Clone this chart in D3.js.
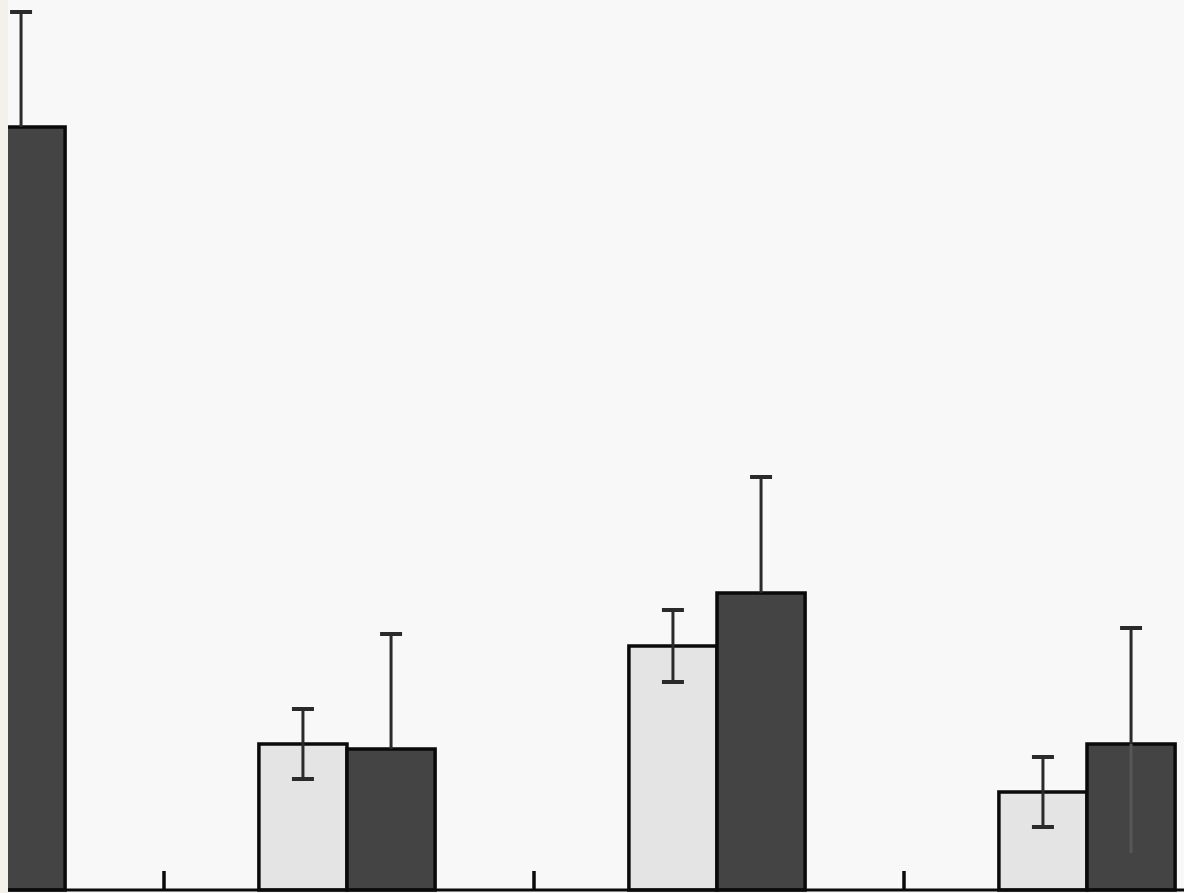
<!DOCTYPE html>
<html>
<head>
<meta charset="utf-8">
<script src="https://cdn.jsdelivr.net/npm/d3@7"></script>
<style>
  html, body { margin: 0; padding: 0; background: #f4f1ec; }
  svg { display: block; }
</style>
</head>
<body>
<svg id="chart" width="1184" height="893"></svg>
<script>
// Groups and series
const groups = ["G1", "G2", "G3", "G4"];
const series = ["light", "dark"];

// Mean values per group (null = not shown)
const lightValues = [null, 1.46, 2.44, 0.98];
const darkValues  = [7.63, 1.41, 2.97, 1.46];

// Error sizes (upper whiskers with caps)
const lightErrors = [null, 0.35, 0.36, 0.35];
const darkErrors  = [1.15, 1.15, 1.16, 1.16];
// Lower whisker drawn inside the dark bar, where visible
const darkLowerErrors = [null, null, null, 1.09];

const W = 1184, H = 893;
const svg = d3.select("#chart");

// Plot panel starts a few pixels in from the left edge
const panelLeft = 8;
const baseY = 890;

svg.append("defs").append("clipPath").attr("id", "panel")
  .append("rect").attr("x", panelLeft).attr("y", 0)
  .attr("width", W - panelLeft).attr("height", H);

svg.append("rect").attr("x", panelLeft).attr("y", 0)
  .attr("width", W - panelLeft).attr("height", H)
  .attr("fill", "#f8f8f8");

const g = svg.append("g").attr("clip-path", "url(#panel)");

const x = d3.scaleBand().domain(groups).range([-208, 1272]).paddingInner(0).paddingOuter(0);
const xs = d3.scaleBand().domain(series).range([0, x.bandwidth()]).paddingInner(0).paddingOuter(1.1);
const y = d3.scaleLinear().domain([0, 8.9]).range([baseY, 0]);

const fills = { light: "#e4e4e4", dark: "#444444" };

const rows = [];
groups.forEach((grp, i) => {
  if (lightValues[i] != null) rows.push({ grp, s: "light", v: lightValues[i], e: lightErrors[i], lo: lightErrors[i] });
  if (darkValues[i] != null) rows.push({ grp, s: "dark", v: darkValues[i], e: darkErrors[i], lo: darkLowerErrors[i] });
});

// Bars
g.selectAll("rect.bar").data(rows).join("rect")
  .attr("class", "bar")
  .attr("x", d => x(d.grp) + xs(d.s))
  .attr("y", d => y(d.v))
  .attr("width", xs.bandwidth())
  .attr("height", d => y(0) - y(d.v))
  .attr("fill", d => fills[d.s])
  .attr("stroke", "#0a0a0a")
  .attr("stroke-width", 3.5);

const cx = d => x(d.grp) + xs(d.s) + xs.bandwidth() / 2;
const capW = 22;

// Lower whiskers inside dark bars (no cap)
g.selectAll("line.lowdark").data(rows.filter(d => d.s === "dark" && d.lo != null)).join("line")
  .attr("x1", cx).attr("x2", cx)
  .attr("y1", d => y(d.v)).attr("y2", d => y(d.v - d.lo))
  .attr("stroke", "#575757").attr("stroke-width", 3);

// Whisker stems
g.selectAll("line.stem").data(rows).join("line")
  .attr("x1", cx).attr("x2", cx)
  .attr("y1", d => y(d.v + d.e))
  .attr("y2", d => d.s === "light" ? y(d.v - d.lo) : y(d.v))
  .attr("stroke", "#2a2a2a").attr("stroke-width", 3);

// Caps (top for all, bottom for light bars)
const caps = [];
rows.forEach(d => {
  caps.push({ d, v: d.v + d.e });
  if (d.s === "light") caps.push({ d, v: d.v - d.lo });
});
g.selectAll("line.cap").data(caps).join("line")
  .attr("x1", c => cx(c.d) - capW / 2).attr("x2", c => cx(c.d) + capW / 2)
  .attr("y1", c => y(c.v)).attr("y2", c => y(c.v))
  .attr("stroke", "#2a2a2a").attr("stroke-width", 4);

// Baseline with ticks at the boundaries between groups
g.append("line").attr("x1", panelLeft).attr("x2", W)
  .attr("y1", baseY).attr("y2", baseY)
  .attr("stroke", "#0a0a0a").attr("stroke-width", 3);

g.selectAll("line.tick").data(groups.slice(1)).join("line")
  .attr("x1", d => x(d) + 2).attr("x2", d => x(d) + 2)
  .attr("y1", baseY - 19).attr("y2", baseY)
  .attr("stroke", "#0a0a0a").attr("stroke-width", 3.5);
</script>
</body>
</html>
